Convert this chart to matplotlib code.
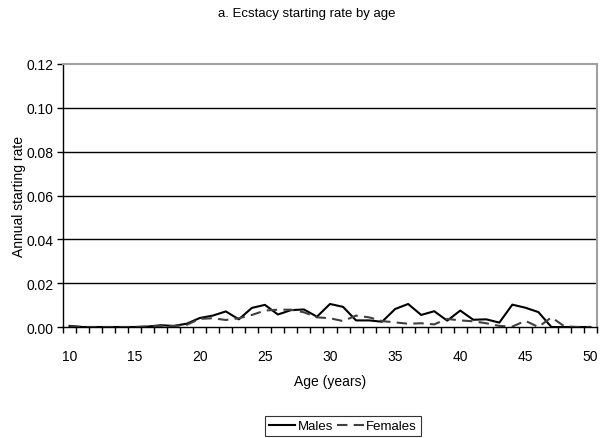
import matplotlib
matplotlib.use("Agg")
import matplotlib.pyplot as plt
import numpy as np

plt.rcParams["font.family"] = ["Liberation Sans Narrow", "Liberation Sans", "DejaVu Sans"]

ages = list(range(10, 51))

males = [0.0005, 0.0, 0.0, 0.0, 0.0, 0.0, 0.0002, 0.0008, 0.0005, 0.0015,
         0.0041, 0.0052, 0.0071, 0.0035, 0.0087, 0.0101, 0.0057, 0.0077, 0.0080, 0.0047,
         0.0105, 0.0092, 0.0030, 0.0030, 0.0024, 0.0082, 0.0105, 0.0055, 0.0072, 0.0029,
         0.0075, 0.0033, 0.0035, 0.0020, 0.0102, 0.0088, 0.0068, 0.0, 0.0, 0.0, 0.0]

females = [0.0003, 0.0, 0.0, 0.0, 0.0, 0.0, 0.0002, 0.0005, 0.0004, 0.0010,
           0.0037, 0.0040, 0.0032, 0.0040, 0.0055, 0.0075, 0.0079, 0.0079, 0.0067, 0.0044,
           0.0040, 0.0027, 0.0052, 0.0044, 0.0027, 0.0021, 0.0015, 0.0017, 0.0012, 0.0037,
           0.0030, 0.0026, 0.0017, 0.0005, 0.0002, 0.0028, 0.0, 0.0044, 0.0003, 0.0, 0.0]

yticks = [0.0, 0.02, 0.04, 0.06, 0.08, 0.10, 0.12]

fig = plt.figure(figsize=(6.0, 4.39), dpi=100)
ax = fig.add_axes([63 / 600, 1 - 328 / 439, 534 / 600, 263 / 439])

x = np.arange(len(ages))
ax.plot(x, males, color="black", linewidth=1.5, label="Males")
ax.plot(x, females, color="#404040", linewidth=1.5, linestyle=(0, (5, 3)),
        label="Females")

ax.set_ylim(0, 0.12)
ax.set_xlim(-0.5, len(ages) - 0.5)
ax.set_yticks(yticks)
ax.set_yticklabels([f"{v:.2f}" for v in yticks])
for v in yticks[1:-1]:
    ax.axhline(v, color="black", linewidth=1.0, zorder=0)

# labels every 5 years, small ticks between the age categories
label_pos = [i for i, a in enumerate(ages) if a % 5 == 0]
ax.set_xticks(label_pos)
ax.set_xticklabels([str(ages[i]) for i in label_pos])
ax.set_xticks(np.arange(-0.5, len(ages) + 0.5, 1.0), minor=True)
ax.tick_params(axis="x", which="major", length=0, pad=16, labelsize=10)
ax.tick_params(axis="x", which="minor", length=4, width=1, direction="out")
ax.tick_params(axis="y", length=4, width=1, pad=3, labelsize=10)

for side in ["left", "bottom"]:
    ax.spines[side].set_color("black")
    ax.spines[side].set_linewidth(1.0)
for side in ["top", "right"]:
    ax.spines[side].set_color("#a0a0a0")
    ax.spines[side].set_linewidth(1.5)

ax.set_ylabel("Annual starting rate", fontsize=10)
ax.yaxis.set_label_coords(-(63 - 26) / 534, 0.5)
ax.set_xlabel("Age (years)", fontsize=10, labelpad=8)

fig.text(307 / 600, 1 - 14 / 439, "a. Ecstacy starting rate by age",
         ha="center", va="center", fontsize=9.5)

leg = fig.legend(loc="center", bbox_to_anchor=(343 / 600, 1 - 427 / 439),
                 ncol=2, frameon=True, fancybox=False, fontsize=9.5,
                 handlelength=2.0, handletextpad=0.2, columnspacing=0.3,
                 borderpad=0.3, borderaxespad=0)
leg.get_frame().set_edgecolor("black")
leg.get_frame().set_linewidth(0.8)

fig.savefig("out.png", dpi=100)
